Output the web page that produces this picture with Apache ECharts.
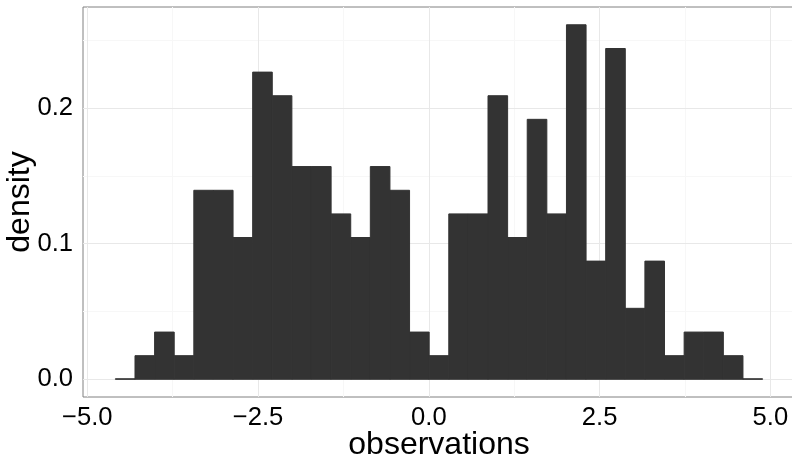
<!DOCTYPE html>
<html>
<head>
<meta charset="utf-8">
<script src="https://cdn.jsdelivr.net/npm/echarts@6/dist/echarts.min.js"></script>
<style>
  html, body { margin: 0; padding: 0; background: #fff; }
  #chart { width: 792px; height: 456px; }
</style>
</head>
<body>
<div id="chart"></div>
<script>
// histogram bins: first left edge and width (in observation units)
const binStart = -4.589;
const binWidth = 0.2871;
// density of each bin, left to right
const densities = [
	0, 0.0174, 0.0348, 0.0174, 0.1393, 0.1393, 0.1045, 0.2264, 0.209, 0.1568, 0.1568,
	0.1219, 0.1045, 0.1568, 0.1393, 0.0348, 0.0174, 0.1219, 0.1219, 0.209, 0.1045, 0.1916,
	0.1219, 0.2613, 0.0871, 0.2438, 0.0523, 0.0871, 0.0174, 0.0348, 0.0348, 0.0174, 0,
];
const xTicks = [-5, -2.5, 0, 2.5, 5];
const xMinor = [-3.75, -1.25, 1.25, 3.75];
const yTicks = [0, 0.1, 0.2];
const yMinor = [0.05, 0.15, 0.25];

const font = "'Liberation Sans', Arial, sans-serif";
const fmt = (v) => v.toFixed(1).replace("-", "\u2212");

const bars = densities.map(function (d, i) {
	const left = binStart + i * binWidth;
	return [left, left + binWidth, d];
});

const gridLines = [].concat(
	xMinor.map((v) => ({ xAxis: v, lineStyle: { color: "#f7f7f7" } })),
	yMinor.map((v) => ({ yAxis: v, lineStyle: { color: "#f7f7f7" } })),
	xTicks.map((v) => ({ xAxis: v, lineStyle: { color: "#e8e8e8" } })),
	yTicks.map((v) => ({ yAxis: v, lineStyle: { color: "#e8e8e8" } }))
);

const option = {
	animation: false,
	grid: {
		left: 83,
		top: 7,
		bottom: 59,
		right: -3,
		outerBoundsMode: "none",
		containLabel: false,
		show: true,
		borderColor: "#808080",
		borderWidth: 1,
		backgroundColor: "#fff",
	},
	xAxis: {
		type: "value",
		min: -5.063,
		max: 5.36,
		name: "observations",
		nameLocation: "middle",
		nameGap: 32,
		nameMoveOverlap: false,
		nameTextStyle: { fontSize: 32, color: "#000", fontFamily: font },
		axisLine: { show: false },
		axisTick: {
			show: true,
			customValues: xTicks,
			length: 5,
			lineStyle: { color: "#333" },
		},
		axisLabel: {
			customValues: xTicks,
			formatter: fmt,
			fontSize: 25.6,
			color: "#000",
			fontFamily: font,
			margin: 7.5,
		},
		splitLine: { show: false },
	},
	yAxis: {
		type: "value",
		min: -0.01306,
		max: 0.2744,
		name: "density",
		nameLocation: "middle",
		nameGap: 47,
		nameMoveOverlap: false,
		nameTextStyle: { fontSize: 32, color: "#000", fontFamily: font },
		axisLine: { show: false },
		axisTick: {
			show: true,
			customValues: yTicks,
			length: 5,
			lineStyle: { color: "#333" },
		},
		axisLabel: {
			customValues: yTicks,
			formatter: fmt,
			fontSize: 25.6,
			color: "#000",
			fontFamily: font,
			margin: 10,
		},
		splitLine: { show: false },
	},
	series: [
		{
			type: "line",
			data: [],
			z: 1,
			silent: true,
			markLine: {
				silent: true,
				z: 1,
				symbol: "none",
				label: { show: false },
				lineStyle: { type: "solid", width: 1 },
				data: gridLines,
			},
		},
		{
			type: "custom",
			z: 10,
			data: bars,
			encode: { x: [0, 1], y: 2 },
			renderItem: function (params, api) {
				const top = api.coord([api.value(0), api.value(2)]);
				const base = api.coord([api.value(1), 0]);
				const h = Math.max(base[1] - top[1], 0.5);
				return {
					type: "rect",
					shape: { x: top[0], y: base[1] - h, width: base[0] - top[0], height: h },
					style: { fill: "#333333", stroke: "#333333", lineWidth: 1 },
				};
			},
		},
	],
};

const chart = echarts.init(document.getElementById("chart"));
chart.setOption(option);
</script>
</body>
</html>
